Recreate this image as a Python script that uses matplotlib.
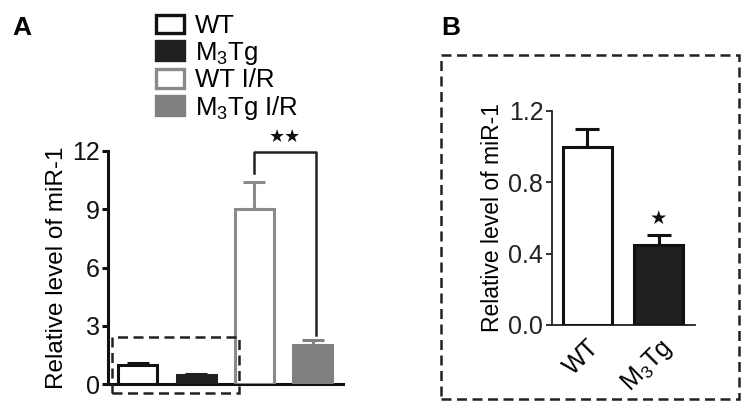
import matplotlib
matplotlib.use("Agg")
import matplotlib.pyplot as plt
from matplotlib.patches import Patch, Rectangle

plt.rcParams['font.family'] = ['Liberation Sans', 'DejaVu Sans']
plt.rcParams['mathtext.fontset'] = 'custom'
plt.rcParams['mathtext.rm'] = 'Liberation Sans'
plt.rcParams['mathtext.it'] = 'Liberation Sans'

# ---- data ----
groups_a = ["WT", "M$_\\mathregular{3}$Tg", "WT I/R", "M$_\\mathregular{3}$Tg I/R"]
values_a = [1.0, 0.45, 9.0, 2.0]
errors_a = [0.07, 0.04, 1.4, 0.27]
yticks_a = [0, 3, 6, 9, 12]

groups_b = ["WT", "M$_\\mathregular{3}$Tg"]
values_b = [1.0, 0.45]
errors_b = [0.10, 0.055]
yticks_b = [0.0, 0.4, 0.8, 1.2]

ylabel = "Relative level of miR-1"

# ---- styles ----
faces_a = ["white", "#202020", "white", "#808080"]
edges_a = ["#111111", "#202020", "#8a8a8a", "#808080"]

W, H = 755, 416
fig = plt.figure(figsize=(W / 100, H / 100), dpi=100)

# ---------- Panel A ----------
axA = fig.add_axes([108 / W, (H - 384) / H, 235 / W, 233 / H])
xa = list(range(len(values_a)))
axA.bar(xa, values_a, width=0.67, color=faces_a, edgecolor=edges_a,
        linewidth=2.2, zorder=3)
for i in xa:
    axA.errorbar(xa[i], values_a[i], yerr=[[0], [errors_a[i]]], fmt='none',
                 ecolor=edges_a[i], elinewidth=2.2, capsize=8, capthick=2.2,
                 zorder=2)
axA.set_xlim(-0.51, 3.52)
axA.set_ylim(0, 12)
axA.set_yticks(yticks_a)
axA.set_yticklabels([str(t) for t in yticks_a])
axA.set_xticks([])
for s in ["top", "right"]:
    axA.spines[s].set_visible(False)
for s in ["left", "bottom"]:
    axA.spines[s].set_linewidth(2.2)
    axA.spines[s].set_color("#111111")
axA.tick_params(axis='y', direction='out', length=4, width=2.2,
                labelsize=18, pad=2, colors="#111111")
axA.set_ylabel(ylabel, fontsize=17.5, labelpad=3)

# significance bracket
axA.plot([2, 2, 3.06, 3.06], [10.85, 11.97, 11.97, 2.52], color="#222222",
         lw=1.8, clip_on=False, zorder=4)
axA.text(2.53, 12.75, "★★", ha='center', va='center', fontsize=13,
         family=['DejaVu Sans'], color="#111111")

# dashed zoom box
axA.add_patch(Rectangle((-0.448, -0.48), 1.736 + 0.448, 2.44 + 0.48,
                        fill=False, ls=(0, (4, 2.2)), lw=1.8,
                        edgecolor="#222222", clip_on=False, zorder=5))

handles = [Patch(facecolor=faces_a[i], edgecolor=edges_a[i], linewidth=2.4,
                 label=groups_a[i]) for i in xa]
fig.legend(handles=handles, loc='upper left',
           bbox_to_anchor=(156 / W, (H - 14) / H), frameon=False,
           fontsize=18.5, handlelength=1.08, handleheight=0.75,
           handletextpad=0.45, labelspacing=0.06, borderpad=0,
           borderaxespad=0)

fig.text(12 / W, (H - 28) / H, "A", fontsize=19, fontweight='bold',
         va='center', ha='left')

# ---------- Panel B ----------
axB = fig.add_axes([551.7 / W, (H - 325) / H, 143.3 / W, 214 / H])
xb = list(range(len(values_b)))
axB.bar(xb, values_b, width=0.68, color=faces_a[:2], edgecolor="#111111",
        linewidth=2.2, zorder=3)
axB.errorbar(xb, values_b, yerr=[[0] * len(xb), errors_b], fmt='none',
             ecolor="#111111", elinewidth=2.2, capsize=8.5, capthick=2.2,
             zorder=2)
axB.set_xlim(-0.5, 1.51)
axB.set_ylim(0, 1.2)
axB.set_yticks(yticks_b)
axB.set_yticklabels([f"{t:.1f}" for t in yticks_b])
axB.set_xticks(xb)
axB.set_xticklabels(groups_b, rotation=45, ha='right', va='top',
                    rotation_mode='anchor', fontsize=18)
for s in ["top", "right"]:
    axB.spines[s].set_visible(False)
for s in ["left", "bottom"]:
    axB.spines[s].set_linewidth(1.3)
    axB.spines[s].set_color("#222222")
axB.tick_params(axis='y', direction='out', length=4, width=1.3,
                labelsize=18, pad=2, colors="#222222")
axB.tick_params(axis='x', length=0, pad=7)
axB.set_ylabel(ylabel, fontsize=16.5, labelpad=3)
axB.text(1, 0.60, "★", ha='center', va='center', fontsize=14,
         family=['DejaVu Sans'], color="#111111")

fig.add_artist(Rectangle((441 / W, (H - 399) / H), (739 - 441) / W,
                         (399 - 55) / H, transform=fig.transFigure,
                         fill=False, ls=(0, (4, 2.2)), lw=1.8,
                         edgecolor="#222222"))
fig.text(441 / W, (H - 28) / H, "B", fontsize=19, fontweight='bold',
         va='center', ha='left')

fig.savefig("out.png", dpi=100)
